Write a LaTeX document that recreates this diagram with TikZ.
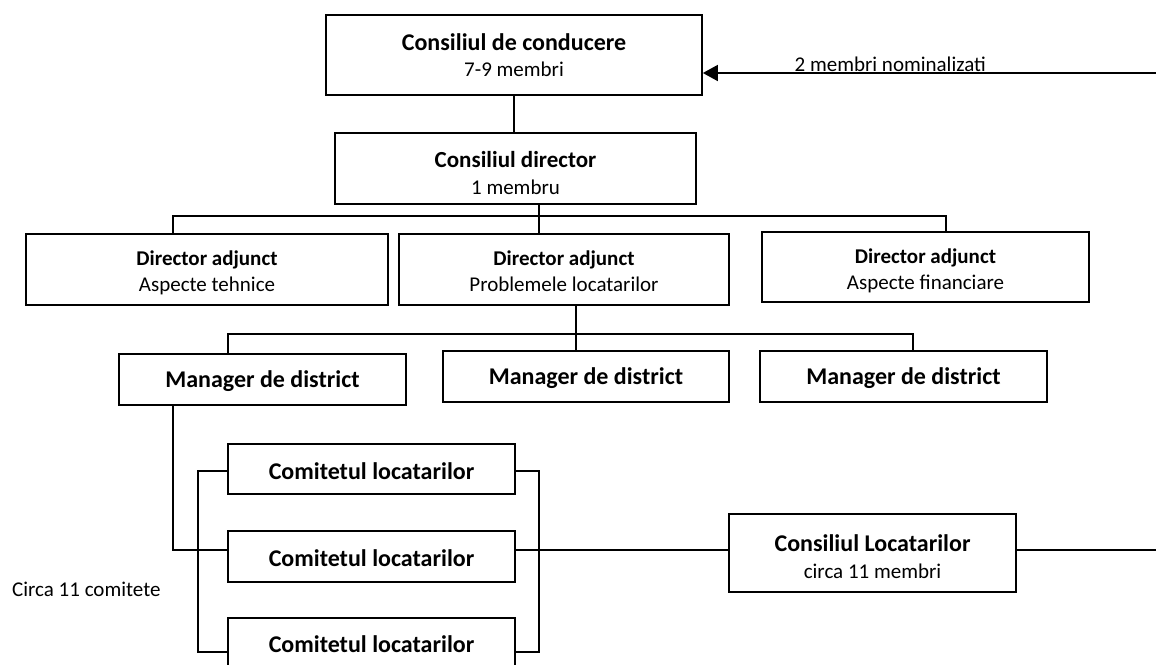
\documentclass[tikz,border=0pt]{standalone}
\usepackage{fontspec}
\setmainfont{Carlito}
\usetikzlibrary{arrows.meta}

% type sizes (1pt = one unit of the drawing grid)
\newcommand\ttlfont{\fontsize{24}{28}\selectfont\bfseries}
\newcommand\cdfont{\fontsize{23}{28}\selectfont\bfseries}
\newcommand\subtxt{\fontsize{21}{27}\selectfont}
\newcommand\datlfont{\fontsize{21}{27}\selectfont\bfseries}
\newcommand\mgrfont{\fontsize{24}{28}\selectfont\bfseries}

\tikzset{
  orgbox/.style={draw, line width=1.7pt, fill=white, inner sep=0pt},
  boxtext/.style={inner sep=0pt, align=center, font=\subtxt},
  link/.style={line width=1.7pt},
  note/.style={inner sep=0pt, font=\subtxt}
}

\begin{document}
\begin{tikzpicture}[x=1pt, y=-1pt]
\useasboundingbox (0,0) rectangle (1156,664);
\fill[white] (0,0) rectangle (1156,664);
\clip (0,0) rectangle (1156,664);

% ---- boxes ----
\node[orgbox, minimum width=376pt, minimum height=80pt] (cdc) at (514,55) {};
\node[orgbox, minimum width=361pt, minimum height=71pt] (cd) at (515.5,168.5) {};
\node[orgbox, minimum width=362pt, minimum height=71pt] (daL) at (207,269.5) {};
\node[orgbox, minimum width=330pt, minimum height=71pt] (daM) at (564,269.5) {};
\node[orgbox, minimum width=327pt, minimum height=70pt] (daR) at (925.5,267) {};
\node[orgbox, minimum width=287pt, minimum height=51pt] (mL) at (262.5,379.5) {};
\node[orgbox, minimum width=286pt, minimum height=51pt] (mM) at (586,376.5) {};
\node[orgbox, minimum width=287pt, minimum height=51pt] (mR) at (903.5,376.5) {};
\node[orgbox, minimum width=287pt, minimum height=50pt] (c1) at (371.5,469) {};
\node[orgbox, minimum width=287pt, minimum height=51pt] (c2) at (371.5,556.5) {};
\node[orgbox, minimum width=287pt, minimum height=51pt] (c3) at (371.5,643.5) {};
\node[orgbox, minimum width=287pt, minimum height=78pt] (cl) at (872.5,553) {};

% ---- box texts ----
\node[boxtext] (cdcT) at ([yshift=0pt]cdc.center)
  {{\ttlfont Consiliul de conducere}\\[-1pt]7-9 membri};
\node[boxtext] (cdT) at ([yshift=-5pt]cd.center)
  {{\cdfont Consiliul director}\\1 membru};
\node[boxtext] (daLT) at ([yshift=-3pt]daL.center)
  {{\datlfont Director adjunct}\\[-1pt]Aspecte tehnice};
\node[boxtext] (daMT) at ([yshift=-2pt]daM.center)
  {{\datlfont Director adjunct}\\[-1pt]Problemele locatarilor};
\node[boxtext] (daRT) at ([yshift=-4pt]daR.center)
  {{\datlfont Director adjunct}\\[-1pt]Aspecte financiare};
\node[boxtext, font=\mgrfont] (mLT) at ([yshift=-2pt]mL.center) {Manager de district};
\node[boxtext, font=\mgrfont] (mMT) at ([yshift=-2pt]mM.center) {Manager de district};
\node[boxtext, font=\mgrfont] (mRT) at ([yshift=-2pt]mR.center) {Manager de district};
\node[boxtext, font=\mgrfont] (c1T) at ([yshift=-2pt]c1.center) {Comitetul locatarilor};
\node[boxtext, font=\mgrfont] (c2T) at ([yshift=-2pt]c2.center) {Comitetul locatarilor};
\node[boxtext, font=\mgrfont] (c3T) at ([yshift=-1pt]c3.center) {Comitetul locatarilor};
\node[boxtext] (clT) at ([yshift=-3.5pt]cl.center)
  {{\ttlfont Consiliul Locatarilor}\\circa 11 membri};

\node[note, anchor=west] (circa) at (12,589) {Circa 11 comitete};

% ---- junction points ----
\coordinate (busL) at (173,216);
\coordinate (busC) at (539,216);
\coordinate (busR) at (946,216);
\coordinate (mgL) at (228,334);
\coordinate (mgC) at (576,334);
\coordinate (mgR) at (913,334);
\coordinate (feed) at (173,550);
\coordinate (brL) at (198,0);
\coordinate (brR) at (539,0);
\coordinate (edgeTop) at (1160,73);
\coordinate (edgeLow) at (1160,550);

% ---- connectors ----
\draw[link] (cdc.south) -- (cdc.south |- cd.north);

\draw[link] (busC |- cd.south) -- (busC |- daM.north);
\draw[link] (busL |- daL.north) -- (busL) -- (busR) -- (busR |- daR.north);

\draw[link] (mgC |- daM.south) -- (mgC |- mM.north);
\draw[link] (mgL |- mL.north) -- (mgL) -- (mgR) -- (mgR |- mR.north);

\draw[link] (feed |- mL.south) -- (feed) -- (feed -| c2.west);

\draw[link] (c1.west |- 0,471) -- (brL |- 0,471) -- (brL |- 0,652) -- (c3.west |- 0,652);
\draw[link] (c1.east |- 0,471) -- (brR |- 0,471) -- (brR |- 0,652) -- (c3.east |- 0,652);

\draw[link] (c2.east |- feed) -- (cl.west |- feed);
\draw[link] (cl.east |- edgeLow) -- (edgeLow);

\draw[link, -{Triangle[length=15pt, width=16pt]}] (edgeTop) -- (cdc.east |- edgeTop)
  node[note, pos=0.59, anchor=base, yshift=2pt] (nom) {2 membri nominalizati};
\end{tikzpicture}
\end{document}
